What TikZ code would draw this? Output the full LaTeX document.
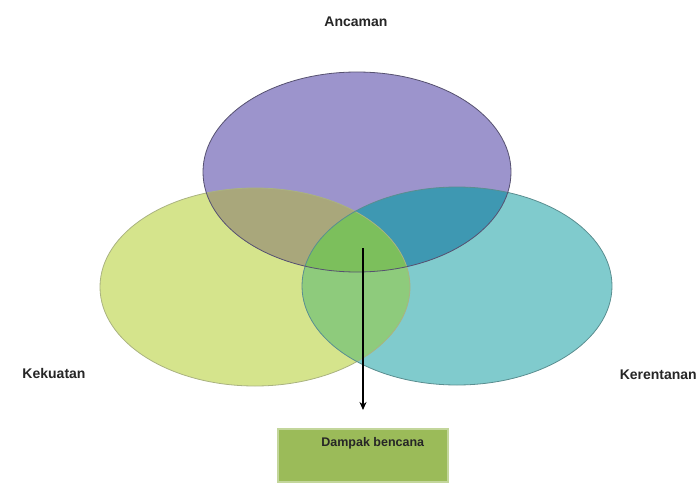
\documentclass[tikz,border=0pt]{standalone}
\usepackage{fontspec}
\setmainfont{Liberation Sans}
\usetikzlibrary{calc,arrows.meta}

\definecolor{ungu}{HTML}{9C94CC}
\definecolor{kuning}{HTML}{D5E48C}
\definecolor{biru}{HTML}{80CBCD}
\definecolor{zaitun}{HTML}{A9A77B}
\definecolor{teal}{HTML}{3E98B2}
\definecolor{hijau}{HTML}{8ECB7C}
\definecolor{tengah}{HTML}{7CBF5C}
\definecolor{kotak}{HTML}{9BBB59}

\begin{document}
\begin{tikzpicture}[x=1pt,y=-1pt,
  label/.style={font=\fontsize{14}{16}\selectfont\bfseries, text=black!85}]
  \useasboundingbox[fill=white] (0,0) rectangle (699,487);

  % tiga lingkaran
  \fill[kuning] (255,287) ellipse [x radius=155, y radius=99];
  \fill[biru] (457,286) ellipse [x radius=155, y radius=99];
  \fill[ungu] (357,172) ellipse [x radius=154, y radius=100];

  % irisan
  \begin{scope}
    \clip (357,172) ellipse [x radius=154, y radius=100];
    \fill[zaitun] (255,287) ellipse [x radius=155, y radius=99];
    \fill[teal] (457,286) ellipse [x radius=155, y radius=99];
  \end{scope}
  \begin{scope}
    \clip (255,287) ellipse [x radius=155, y radius=99];
    \fill[hijau] (457,286) ellipse [x radius=155, y radius=99];
    \clip (457,286) ellipse [x radius=155, y radius=99];
    \fill[tengah] (357,172) ellipse [x radius=154, y radius=100];
  \end{scope}

  \draw[kuning!70!black!80, line width=0.8] (255,287) ellipse [x radius=155, y radius=99];
  \draw[biru!70!black, line width=0.8] (457,286) ellipse [x radius=155, y radius=99];
  \draw[ungu!55!black, line width=0.8] (357,172) ellipse [x radius=154, y radius=100];

  % label
  \node[label] (ancaman) at (356,22) {Ancaman};
  \node[label] (kekuatan) at (54,373) {Kekuatan};
  \node[label, anchor=east, inner sep=1] (kerentanan) at (698,375) {Kerentanan};

  \node[fill=kotak, draw=kotak!60!white, line width=1.5, minimum width=170, minimum height=53,
    inner sep=0, anchor=north west] (dampak) at (277,428) {};
  \node[font=\fontsize{12.5}{14}\selectfont\bfseries, text=black!85] (teks)
    at ($(dampak.north)+(10,15)$) {Dampak bencana};

  % panah
  \coordinate (pusat) at (363,248);
  \coordinate (ujung) at (363,410);
  \draw[-{Stealth[length=8pt,width=7pt]}, line width=1.5] (pusat) -- (ujung);
\end{tikzpicture}
\end{document}
